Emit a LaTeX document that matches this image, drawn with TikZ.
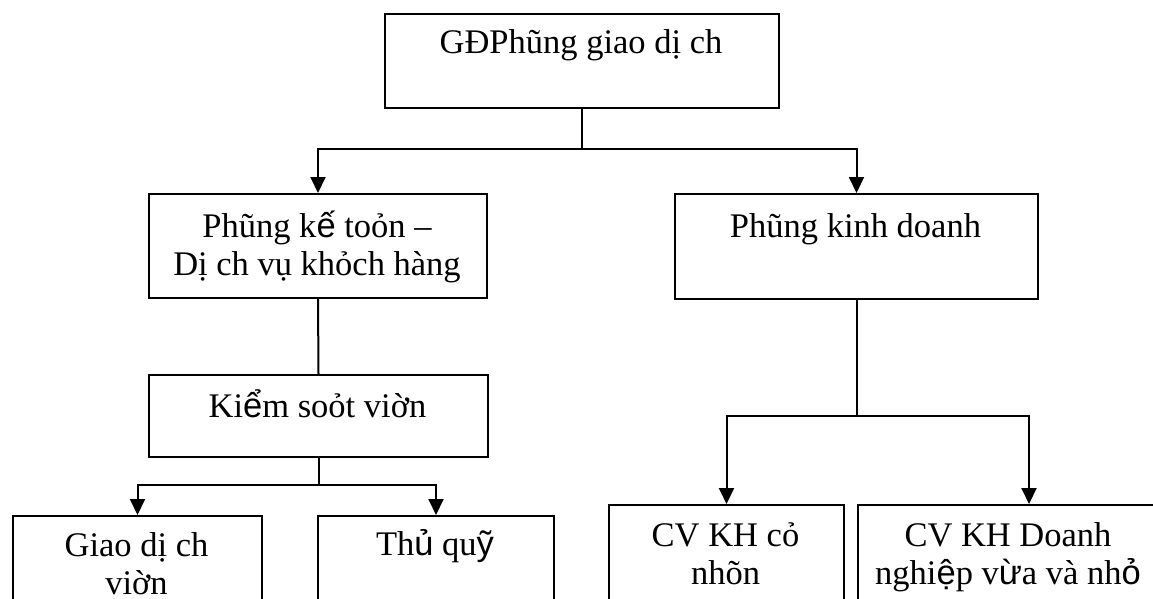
\documentclass[tikz,border=0pt]{standalone}
\usepackage{fontspec}
\setmainfont{Liberation Serif}
\newfontfamily\sansvn{Liberation Sans}
\usetikzlibrary{arrows.meta}
\newcommand{\twolns}[2]{\vtop{\halign{\hfil##\hfil\cr #1\cr #2\cr}}}
\tikzset{
  box/.style={draw=black, line width=2pt, rectangle, inner sep=0pt, anchor=north west},
  txt/.style={inner sep=0pt, anchor=base, font=\fontsize{34.5}{38}\selectfont},
  link/.style={draw=black, line width=2pt},
  arr/.style={link, -{Triangle[length=16pt,width=15pt]}}
}
\begin{document}
\begin{tikzpicture}[x=1pt,y=-1pt]
\clip (0,0) rectangle (1153,599);
\fill[white] (0,0) rectangle (1153,599);
% boxes
\node[box, minimum width=394pt, minimum height=94pt] (top) at (384,13) {};
\node[box, minimum width=338pt, minimum height=104pt] (L2) at (148,193) {};
\node[box, minimum width=363pt, minimum height=105pt] (R2) at (674,193) {};
\node[box, minimum width=339pt, minimum height=82pt] (K) at (148,374) {};
\node[box, minimum width=249pt, minimum height=130pt] (G) at (12,515) {};
\node[box, minimum width=236pt, minimum height=130pt] (T) at (317,515) {};
\node[box, minimum width=235pt, minimum height=140pt] (C1) at (608,504) {};
\node[box, minimum width=302pt, minimum height=140pt] (C2) at (857,504) {};
% texts
\node[txt] (topT) at (581,54) {GĐPhũng giao dị ch};
\node[txt] (L2T) at (317,237) {\twolns{Phũng k{\sansvn ế} toỏn –}{Dị ch vụ khỏch hàng}};
\node[txt] (R2T) at (855.5,237) {Phũng kinh doanh};
\node[txt] (KT) at (317.5,417) {Ki{\sansvn ể}m soỏt viờn};
\node[txt] (GT) at (136.5,556) {\twolns{Giao dị ch}{viờn}};
\node[txt] (TT) at (435,555) {Th{\sansvn ủ} qu{\sansvn ỹ}};
\node[txt] (C1T) at (725.5,546) {\twolns{CV KH cỏ}{nhõn}};
\node[txt] (C2T) at (1008,546) {\twolns{CV KH Doanh}{nghi{\sansvn ệ}p v{\sansvn ừ}a và nh{\sansvn ỏ}}};
% connectors
\coordinate (c2in) at (1029,504);
\draw[arr] (top.south) -- ++(0,40) -| (L2.north);
\draw[arr] (top.south) -- ++(0,40) -| (R2.north);
\draw[link] (L2.south) -- (K.north);
\draw[arr] (K.south) -- ++(0,27) -| (G.north);
\draw[arr] (K.south) -- ++(0,27) -| (T.north);
\draw[arr] (R2.south) -- ++(0,116) -| (C1.north);
\draw[arr] (R2.south) -- ++(0,116) -| (c2in);
\end{tikzpicture}
\end{document}
